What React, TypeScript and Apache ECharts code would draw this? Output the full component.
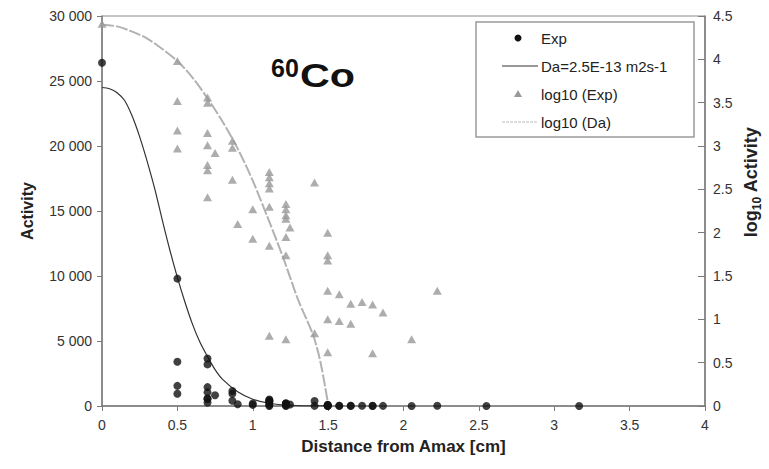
import React, { useEffect, useRef } from "react";
import * as echarts from "echarts";

// Exp (activity) measurements
const expX = [0, 0.5, 0.5, 0.5, 0.5, 0.7, 0.7, 0.7, 0.7, 0.7, 0.7, 0.7, 0.75, 0.865, 0.865, 0.865, 0.9, 1.0, 1.0,
  1.11, 1.11, 1.11, 1.11, 1.11, 1.11, 1.11, 1.22, 1.22, 1.22, 1.22, 1.22, 1.22, 1.22, 1.247, 1.41, 1.41,
  1.497, 1.497, 1.497, 1.497, 1.497, 1.497, 1.574, 1.574, 1.65, 1.65, 1.725, 1.795, 1.795, 1.864, 2.054, 2.224, 2.55, 3.165];
const expY = [26400, 9800, 3400, 1550, 940, 3650, 3200, 1450, 1050, 600, 520, 260, 830, 1150, 950, 400, 130, 190, 85,
  500, 440, 370, 320, 200, 70, 6, 210, 190, 160, 145, 90, 55, 6, 115, 380, 7,
  100, 55, 48, 21, 10, 4, 20, 10, 15, 9, 16, 15, 4, 12, 6, 21, 1, 1];

// log10 (Exp)
const logExpX = [0, 0.5, 0.5, 0.5, 0.5, 0.7, 0.7, 0.7, 0.7, 0.7, 0.7, 0.7, 0.75, 0.865, 0.865, 0.865, 0.9, 1.0, 1.0,
  1.11, 1.11, 1.11, 1.11, 1.11, 1.11, 1.11, 1.22, 1.22, 1.22, 1.22, 1.22, 1.22, 1.22, 1.247, 1.41, 1.41,
  1.497, 1.497, 1.497, 1.497, 1.497, 1.497, 1.574, 1.574, 1.65, 1.65, 1.725, 1.795, 1.795, 1.864, 2.054, 2.224];
const logExpY = [4.41, 3.98, 3.52, 3.18, 2.97, 3.56, 3.50, 3.15, 3.01, 2.78, 2.72, 2.41, 2.92, 3.06, 2.98, 2.61, 2.10, 2.27, 1.93,
  2.70, 2.64, 2.57, 2.51, 2.30, 1.85, 0.81, 2.33, 2.27, 2.20, 2.16, 1.95, 1.74, 0.77, 2.06, 2.58, 0.84,
  2.00, 1.74, 1.68, 1.33, 1.00, 0.62, 1.29, 0.98, 1.18, 0.95, 1.20, 1.17, 0.61, 1.08, 0.77, 1.33];

// Da = 2.5E-13 m2s-1 model curve
const daX = [0, 0.05, 0.1, 0.15, 0.2, 0.25, 0.3, 0.35, 0.4, 0.45, 0.5, 0.55, 0.6, 0.65, 0.7, 0.75, 0.8, 0.9, 1.0, 1.1, 1.2, 1.3, 1.4, 1.5];
const daY = [24500, 24400, 24100, 23500, 22300, 20700, 18800, 16700, 14300, 12000, 9900, 8000, 6300, 4900, 3800, 2800, 2050, 1100, 520, 230, 90, 35, 12, 4];

// log10 (Da) curve
const logDaX = [0, 0.1, 0.2, 0.3, 0.4, 0.5, 0.6, 0.7, 0.8, 0.9, 1.0, 1.1, 1.2, 1.3, 1.4, 1.45, 1.5];
const logDaY = [4.40, 4.38, 4.32, 4.24, 4.12, 3.98, 3.79, 3.55, 3.28, 2.97, 2.60, 2.17, 1.72, 1.23, 0.82, 0.50, 0.02];

const legendNames = ["Exp", "Da=2.5E-13 m2s-1", "log10 (Exp)", "log10 (Da)"];

const FONT = "Liberation Sans, Arial, Helvetica, sans-serif";

function pairs(xs: number[], ys: number[]) {
  return xs.map((x, i) => [x, ys[i]]);
}

function fmtThousands(v: number) {
  return String(v).replace(/\B(?=(\d{3})+(?!\d))/g, " ");
}

export default function App() {
  const ref = useRef<HTMLDivElement>(null);
  useEffect(() => {
    if (!ref.current) return;
    const chart = echarts.init(ref.current, undefined, { renderer: "svg" });
    const axisColor = "#7a7a7a";
    const labelStyle = { color: "#333", fontFamily: FONT, fontSize: 14 };
    chart.setOption({
      animation: false,
      backgroundColor: "#fff",
      grid: { left: 102, right: 64, top: 16, bottom: 63, show: true, borderColor: "#8a8a8a", borderWidth: 1 },
      xAxis: {
        type: "value", min: 0, max: 4, interval: 0.5,
        name: "Distance from Amax [cm]", nameLocation: "middle", nameGap: 32,
        nameTextStyle: { fontFamily: FONT, fontSize: 17, fontWeight: "bold", color: "#222" },
        axisLine: { onZero: false, lineStyle: { color: axisColor, width: 1.5 } },
        axisTick: { show: true, length: 5, lineStyle: { color: axisColor } },
        axisLabel: { ...labelStyle, margin: 12 },
        splitLine: { show: false },
      },
      yAxis: [
        {
          type: "value", min: 0, max: 30000, interval: 5000, position: "left",
          name: "Activity", nameLocation: "middle", nameGap: 67, nameRotate: 90,
          nameTextStyle: { fontFamily: FONT, fontSize: 16, fontWeight: "bold", color: "#222" },
          axisLine: { show: true, lineStyle: { color: axisColor, width: 1.5 } },
          axisTick: { show: true, length: 5, lineStyle: { color: axisColor } },
          axisLabel: { ...labelStyle, margin: 10, formatter: (v: number) => fmtThousands(v) },
          splitLine: { show: false },
        },
        {
          type: "value", min: 0, max: 4.5, interval: 0.5, position: "right",
          axisLine: { show: true, lineStyle: { color: axisColor, width: 1.5 } },
          axisTick: { show: true, inside: true, length: 7, lineStyle: { color: axisColor } },
          axisLabel: { ...labelStyle, margin: 8 },
          splitLine: { show: false },
        },
      ],
      series: [
        {
          name: legendNames[1], type: "line", yAxisIndex: 0, data: pairs(daX, daY), smooth: 0.3,
          showSymbol: false, lineStyle: { color: "#333", width: 1.2 }, z: 2,
        },
        {
          name: legendNames[3], type: "line", yAxisIndex: 1, data: pairs(logDaX, logDaY), smooth: 0.3,
          showSymbol: false, lineStyle: { color: "#b2b2b2", width: 2, type: [12, 2] }, z: 2,
        },
        {
          name: legendNames[2], type: "scatter", yAxisIndex: 1, data: pairs(logExpX, logExpY),
          symbol: "triangle", symbolSize: [9, 8], itemStyle: { color: "#999" }, z: 3,
        },
        {
          name: legendNames[0], type: "scatter", yAxisIndex: 0, data: pairs(expX, expY),
          symbol: "circle", symbolSize: 8, itemStyle: { color: "#111" }, z: 4,
        },
      ],
      graphic: [
        { type: "rect", shape: { x: 476, y: 22, width: 218, height: 115 }, style: { fill: "#fff", stroke: "#9a9a9a", lineWidth: 1.5 }, z: 10 },
        { type: "circle", shape: { cx: 518, cy: 38, r: 3.5 }, style: { fill: "#111" }, z: 11 },
        { type: "text", x: 541, y: 38, style: { text: legendNames[0], fontFamily: FONT, fontSize: 15, fill: "#222", verticalAlign: "middle" }, z: 11 },
        { type: "line", shape: { x1: 502, y1: 66, x2: 538, y2: 66 }, style: { stroke: "#333", lineWidth: 1 }, z: 11 },
        { type: "text", x: 541, y: 66, style: { text: legendNames[1], fontFamily: FONT, fontSize: 15, fill: "#222", verticalAlign: "middle" }, z: 11 },
        { type: "polygon", shape: { points: [[518, 90], [514, 97], [522, 97]] }, style: { fill: "#999" }, z: 11 },
        { type: "text", x: 541, y: 94, style: { text: legendNames[2], fontFamily: FONT, fontSize: 15, fill: "#222", verticalAlign: "middle" }, z: 11 },
        { type: "line", shape: { x1: 502, y1: 122, x2: 538, y2: 122 }, style: { stroke: "#bbb", lineWidth: 1.2, lineDash: [3, 1] }, z: 11 },
        { type: "text", x: 541, y: 122, style: { text: legendNames[3], fontFamily: FONT, fontSize: 15, fill: "#222", verticalAlign: "middle" }, z: 11 },
        { type: "text", x: 271, y: 68, style: { text: "60", fontFamily: FONT, fontSize: 25, fontWeight: "bold", fill: "#111", verticalAlign: "middle" }, z: 11 },
        { type: "text", x: 300, y: 76, scaleX: 1.25, style: { text: "Co", fontFamily: FONT, fontSize: 33, fontWeight: "bold", fill: "#111", verticalAlign: "middle" }, z: 11 },
        {
          type: "text", x: 751, y: 182, rotation: Math.PI / 2,
          style: {
            text: "{a|log}{b|10}{a| Activity}", align: "center", verticalAlign: "middle",
            rich: {
              a: { fontFamily: FONT, fontSize: 18, fontWeight: "bold", fill: "#222", verticalAlign: "bottom" },
              b: { fontFamily: FONT, fontSize: 12, fontWeight: "bold", fill: "#222", verticalAlign: "bottom", padding: [0, 0, -3, 0] },
            },
          },
          z: 11,
        },
      ],
    });
    return () => chart.dispose();
  }, []);
  return <div ref={ref} style={{ position: "fixed", left: 0, top: 0, width: 769, height: 469, background: "#fff" }} />;
}
